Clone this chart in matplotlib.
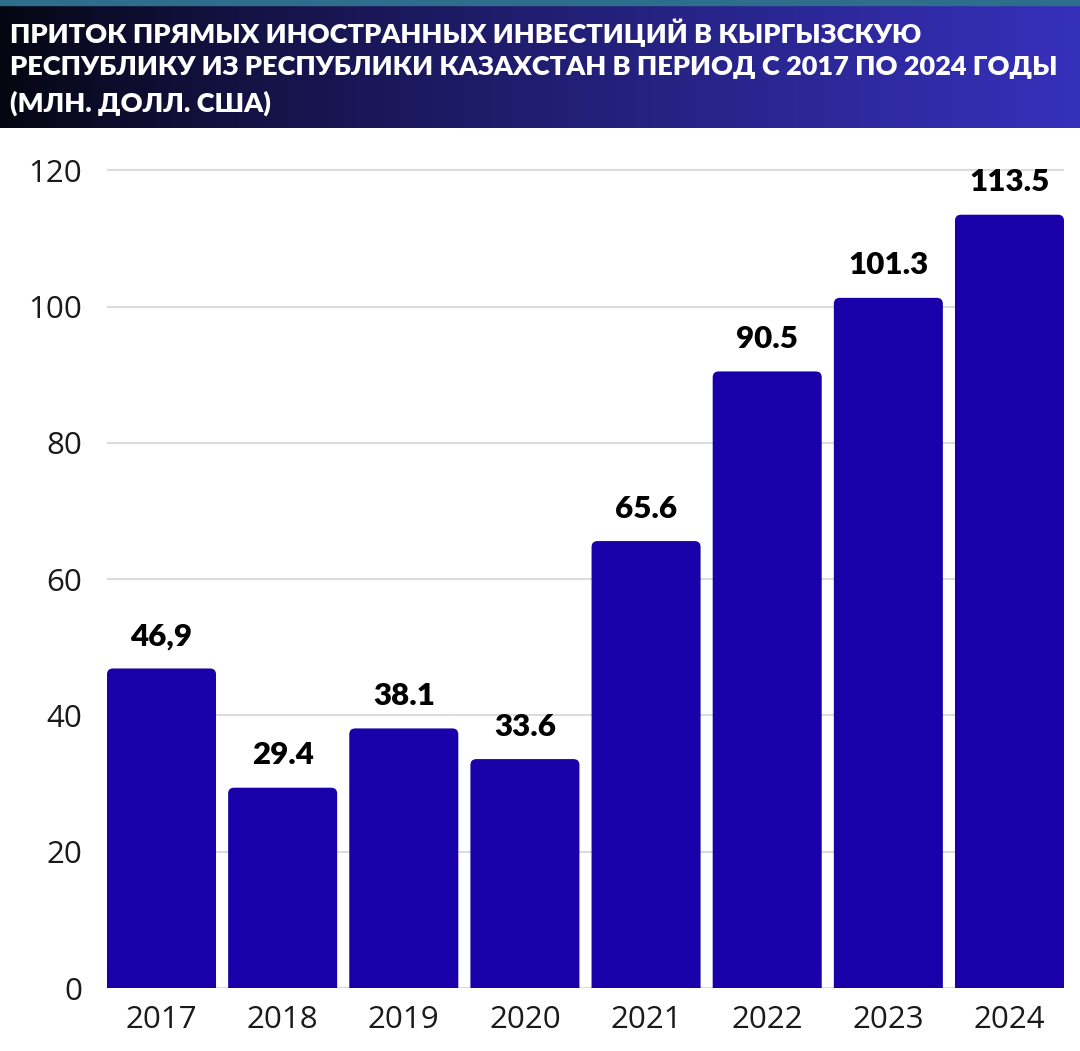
import numpy as np
import matplotlib.pyplot as plt
from matplotlib.patches import FancyBboxPatch

# data
years = ['2017', '2018', '2019', '2020', '2021', '2022', '2023', '2024']
values = [46.9, 29.4, 38.1, 33.6, 65.6, 90.5, 101.3, 113.5]
value_labels = ['46,9', '29.4', '38.1', '33.6', '65.6', '90.5', '101.3', '113.5']
y_ticks = [0, 20, 40, 60, 80, 100, 120]

title_lines = [
    'ПРИТОК ПРЯМЫХ ИНОСТРАННЫХ ИНВЕСТИЦИЙ В КЫРГЫЗСКУЮ',
    'РЕСПУБЛИКУ ИЗ РЕСПУБЛИКИ КАЗАХСТАН В ПЕРИОД С 2017 ПО 2024 ГОДЫ',
    '(МЛН. ДОЛЛ. США)',
]

bar_color = '#1a00a8'

fig = plt.figure(figsize=(10.8, 10.51), dpi=100)
fig.patch.set_facecolor('white')

# ---- header band with gradient ----
head_ax = fig.add_axes([0, 1 - 128 / 1051, 1, 128 / 1051])
grad = np.linspace(0, 1, 512)
c0 = np.array([0.02, 0.02, 0.06])
c1 = np.array([0.21, 0.19, 0.73])
img = c0[None, :] * (1 - grad[:, None] ** 0.8) + c1[None, :] * grad[:, None] ** 0.8
head_ax.imshow(img[None, :, :], aspect='auto', extent=[0, 1, 0, 1])
head_ax.axhspan(0.96, 1.0, color='#2f6d8c')
head_ax.set_xlim(0, 1)
head_ax.set_ylim(0, 1)
head_ax.axis('off')

line_y = [0.745, 0.48, 0.195]
for txt, yy in zip(title_lines, line_y):
    head_ax.text(0.009, yy, txt, color='white', fontsize=19.5, fontweight='heavy',
                 family='Lato', va='center', ha='left')

# ---- bar chart ----
ax = fig.add_axes([107 / 1080, 63 / 1051, (1064 - 107) / 1080, (988 - 150) / 1051])
x = np.arange(len(years))
width = 0.9
for xi, v in zip(x, values):
    patch = FancyBboxPatch((xi - width / 2, -3), width, v + 3,
                           boxstyle='round,pad=0,rounding_size=0.05',
                           mutation_aspect=17.5, facecolor=bar_color,
                           edgecolor='none', zorder=3)
    ax.add_patch(patch)

for xi, v, lab in zip(x, values, value_labels):
    ax.text(xi, v + 2.7, lab, ha='center', va='bottom', fontsize=22.5,
            fontweight='heavy', family='Lato', color='black')

ax.set_xlim(-0.45, len(years) - 0.55)
ax.set_ylim(0, 123)
ax.set_yticks(y_ticks)
ax.set_xticks(x)
ax.set_xticklabels(years)
ax.grid(axis='y', color='#dcdcdc', linewidth=1.5, zorder=0)
ax.set_axisbelow(True)
for s in ax.spines.values():
    s.set_visible(False)
ax.tick_params(length=0, labelsize=22.5, labelcolor='#1a1a1a', pad=12)
for lab in ax.get_xticklabels() + ax.get_yticklabels():
    lab.set_family('Open Sans')
ax.tick_params(axis='y', pad=18)

fig.savefig('out.png', dpi=100, facecolor='white')
